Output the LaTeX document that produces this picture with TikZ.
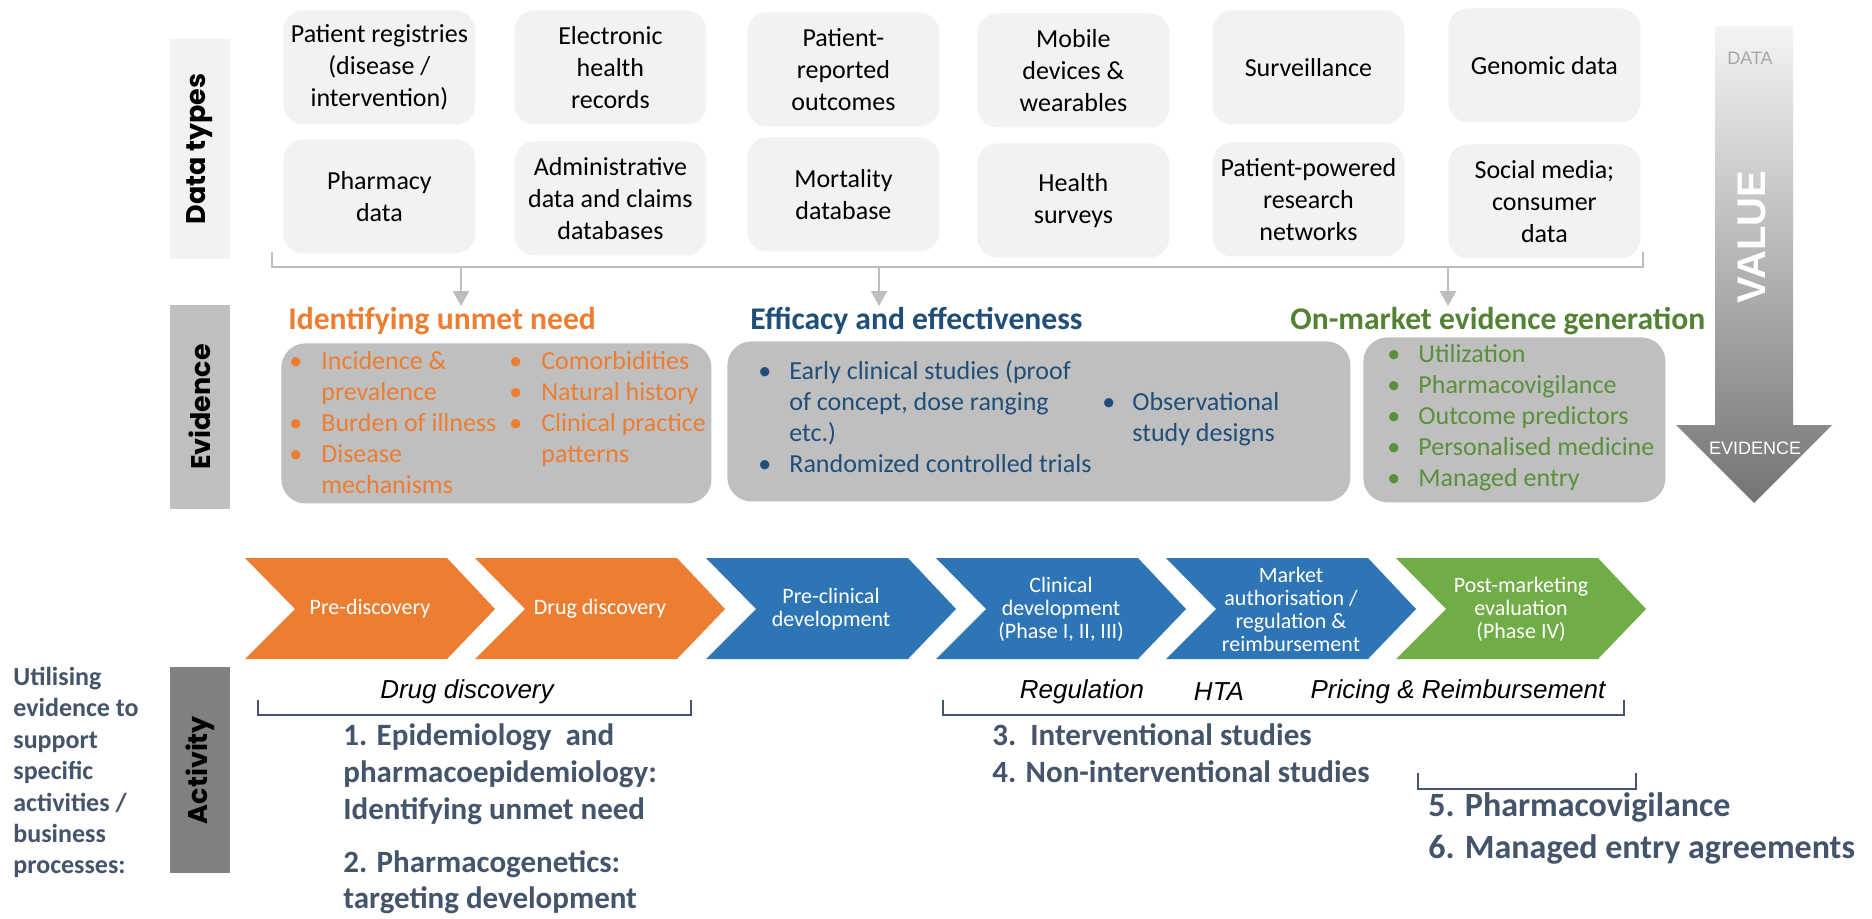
\documentclass[tikz,border=0pt]{standalone}
\usepackage{fontspec}
\setmainfont{Carlito}
\newfontfamily\arialf{Liberation Sans}
\newfontfamily\gothic{Poppins}
\usetikzlibrary{arrows.meta}
\definecolor{dbox}{HTML}{F2F2F2}
\definecolor{ebox}{HTML}{BFBFBF}
\definecolor{abar}{HTML}{808080}
\definecolor{oran}{HTML}{ED7D31}
\definecolor{blu}{HTML}{2E75B6}
\definecolor{grn}{HTML}{70AD47}
\definecolor{navy}{HTML}{1F4E79}
\definecolor{dgreen}{HTML}{548235}
\definecolor{lgreen}{HTML}{5A8F3C}
\definecolor{slate}{HTML}{44546A}
\definecolor{brk}{HTML}{BDBDBD}
\definecolor{vtop}{HTML}{F4F4F4}
\definecolor{vbot}{HTML}{747474}
\tikzset{
  databox/.style={fill=dbox, rounded corners=10pt, minimum width=96pt, minimum height=57pt,
    align=center, font=\fontsize{13}{16}\selectfont, inner sep=0pt, anchor=north west},
  sidebar/.style={minimum height=30pt, inner sep=0pt, rotate=90, font=\gothic\bfseries\fontsize{13.5}{16}\selectfont},
  evbox/.style={fill=ebox, rounded corners=12pt, inner sep=0pt, anchor=north west},
  evtitle/.style={anchor=west, inner sep=0pt, font=\bfseries\fontsize{15.8}{19}\selectfont},
  evlist/.style={anchor=north west, inner sep=0pt, font=\fontsize{13}{15.5}\selectfont},
  chevtext/.style={text=white, align=center, font=\fontsize{11}{11.5}\selectfont, inner sep=0pt},
  itlabel/.style={font=\arialf\itshape\fontsize{13}{15}\selectfont, inner sep=0pt},
  numitem/.style={anchor=north west, inner sep=0pt, align=left, text=slate,
    font=\bfseries\fontsize{15.5}{18.5}\selectfont},
  bignum/.style={anchor=north west, inner sep=0pt, align=left, text=slate,
    font=\bfseries\fontsize{17}{20.5}\selectfont},
  graybrk/.style={draw=brk, line width=1.2pt},
  grayarr/.style={draw=brk, line width=1pt, -{Triangle[width=8pt,length=7.5pt]}},
  actbrk/.style={draw=slate, line width=0.7pt},
}
\newcommand\chevron[2]{\fill[#2] (#1,558) -- ++(202,0) -- ++(48,51) -- ++(-48,50) -- ++(-202,0) -- ++(50,-50) -- cycle;}
\begin{document}
\begin{tikzpicture}[x=0.5pt,y=-0.5pt]
\useasboundingbox (0,0) rectangle (1872,918);
\fill[white] (0,0) rectangle (1872,918);

% side bars
\node[sidebar, fill=dbox, minimum width=110pt] (dt) at (200,149) {Data types};
\node[sidebar, fill=ebox, minimum width=102pt] (ev) at (200,407) {Evidence};
\node[sidebar, fill=abar, minimum width=103pt] (act) at (200,770) {Activity};

% data boxes row 1
\node[databox] (d11) at (283,10) {Patient registries\\(disease /\\intervention)};
\node[databox] (d12) at (514,10) {Electronic\\health\\records};
\node[databox] (d13) at (747,12) {Patient-\\reported\\outcomes};
\node[databox] (d14) at (977,13) {Mobile\\devices \&\\wearables};
\node[databox] (d15) at (1212,10) {Surveillance};
\node[databox] (d16) at (1448,8) {Genomic data};
% data boxes row 2
\node[databox] (d21) at (283,139) {Pharmacy\\data};
\node[databox] (d22) at (514,141) {Administrative\\data and claims\\databases};
\node[databox] (d23) at (747,137) {Mortality\\database};
\node[databox] (d24) at (977,143) {Health\\surveys};
\node[databox] (d25) at (1212,142) {Patient-powered\\research\\networks};
\node[databox] (d26) at (1448,144) {Social media;\\consumer\\data};

% bracket and arrows
\coordinate (bk1) at (272,252);
\coordinate (bk3) at (1643,267);
\coordinate (bk4) at (1643,252);
\draw[graybrk] (bk1) |- (bk3) -- (bk4);
\coordinate (a1s) at (461,267); \coordinate (a1e) at (461,306);
\coordinate (a2s) at (879,267); \coordinate (a2e) at (879,306);
\coordinate (a3s) at (1448,267); \coordinate (a3e) at (1448,306);
\draw[grayarr] (a1s) -- (a1e);
\draw[grayarr] (a2s) -- (a2e);
\draw[grayarr] (a3s) -- (a3e);

% evidence titles
\node[evtitle, text=oran] (tA) at (288,321) {Identifying unmet need};
\node[evtitle, text=navy] (tB) at (750,321) {Efficacy and effectiveness};
\node[evtitle, text=dgreen] (tC) at (1290,321) {On-market evidence generation};

% evidence boxes
\node[evbox, minimum width=215pt, minimum height=80pt] (eA) at (281,343) {};
\node[evbox, minimum width=311.5pt, minimum height=80pt] (eB) at (727,341) {};
\node[evbox, minimum width=151pt, minimum height=82.5pt] (eC) at (1363,337) {};

\node[evlist, text=oran] (lA) at (289,347) {%
\begin{tabular}{@{}p{16pt}@{}p{94pt}@{}p{16pt}@{}l@{}}
\textbullet & Incidence \& & \textbullet & Comorbidities\\
 & prevalence & \textbullet & Natural history\\
\textbullet & Burden of illness & \textbullet & Clinical practice\\
\textbullet & Disease & & patterns\\
 & mechanisms & &
\end{tabular}};
\node[evlist, text=navy] (lB) at (758,357) {%
\begin{tabular}{@{}p{15.5pt}@{}p{156.5pt}@{}p{15pt}@{}l@{}}
\textbullet & Early clinical studies (proof & & \\
 & of concept, dose ranging & \textbullet & Observational\\
 & etc.) & & study designs\\
\textbullet & Randomized controlled trials & &
\end{tabular}};
\node[evlist, text=lgreen] (lC) at (1387,340) {%
\begin{tabular}{@{}p{15.5pt}@{}l@{}}
\textbullet & Utilization\\
\textbullet & Pharmacovigilance\\
\textbullet & Outcome predictors\\
\textbullet & Personalised medicine\\
\textbullet & Managed entry
\end{tabular}};

% value arrow
\shade[top color=vtop, bottom color=vbot] (1715,26) -- (1793,26) -- (1793,425) -- (1832,425)
  -- (1754,503) -- (1676,425) -- (1715,425) -- cycle;
\node[font=\arialf\fontsize{9}{11}\selectfont, text=black!35] (dataL) at (1750,58) {DATA};
\node[font=\arialf\fontsize{9}{11}\selectfont, text=white] (evidL) at (1755,448) {EVIDENCE};
\node[font=\arialf\bfseries\fontsize{20}{24}\selectfont, text=white, rotate=90] (valL) at (1752,237) {VALUE};

% chevrons
\chevron{245}{oran}
\chevron{475}{oran}
\chevron{706}{blu}
\chevron{936}{blu}
\chevron{1166}{blu}
\chevron{1396}{grn}
\node[chevtext] (c1) at (370,609) {Pre-discovery};
\node[chevtext] (c2) at (600,609) {Drug discovery};
\node[chevtext] (c3) at (831,609) {Pre-clinical\\development};
\node[chevtext] (c4) at (1061,609) {Clinical\\development\\(Phase I, II, III)};
\node[chevtext] (c5) at (1291,609) {Market\\authorisation /\\regulation \&\\reimbursement};
\node[chevtext] (c6) at (1521,609) {Post-marketing\\evaluation\\(Phase IV)};

% activity labels
\node[itlabel] (ddL) at (467,692) {Drug discovery};
\node[itlabel] (regL) at (1082,692) {Regulation};
\node[itlabel] (htaL) at (1219,692) {HTA};
\node[itlabel] (prL) at (1458,692) {Pricing \& Reimbursement};

\coordinate (b1a) at (258,700); \coordinate (b1b) at (691,715); \coordinate (b1c) at (691,700);
\draw[actbrk] (b1a) |- (b1b) -- (b1c);
\coordinate (b2a) at (943,700); \coordinate (b2b) at (1624,715); \coordinate (b2c) at (1624,700);
\draw[actbrk] (b2a) |- (b2b) -- (b2c);
\coordinate (b3a) at (1418,773); \coordinate (b3b) at (1636,789); \coordinate (b3c) at (1636,773);
\draw[actbrk] (b3a) |- (b3b) -- (b3c);

% left text
\node[anchor=north west, inner sep=0pt, align=left, text=slate,
  font=\bfseries\fontsize{13}{15.7}\selectfont] (util) at (13,663)
  {\strut Utilising\\evidence to\\support\\specific\\activities /\\business\\processes:};

% numbered items
\node[numitem] (n1) at (343,719) {\strut 1. Epidemiology\ \ and\\pharmacoepidemiology:\\Identifying unmet need};
\node[numitem, font=\bfseries\fontsize{15.5}{18}\selectfont] (n2) at (343,847) {\strut 2. Pharmacogenetics:\\targeting development};
\node[numitem] (n3) at (992,719) {\strut 3.\ \ Interventional studies\\4. Non-interventional studies};
\node[bignum] (n5) at (1428,787) {\strut 5. Pharmacovigilance};
\node[bignum] (n6) at (1428,829) {\strut 6. Managed entry agreements};
\end{tikzpicture}
\end{document}
